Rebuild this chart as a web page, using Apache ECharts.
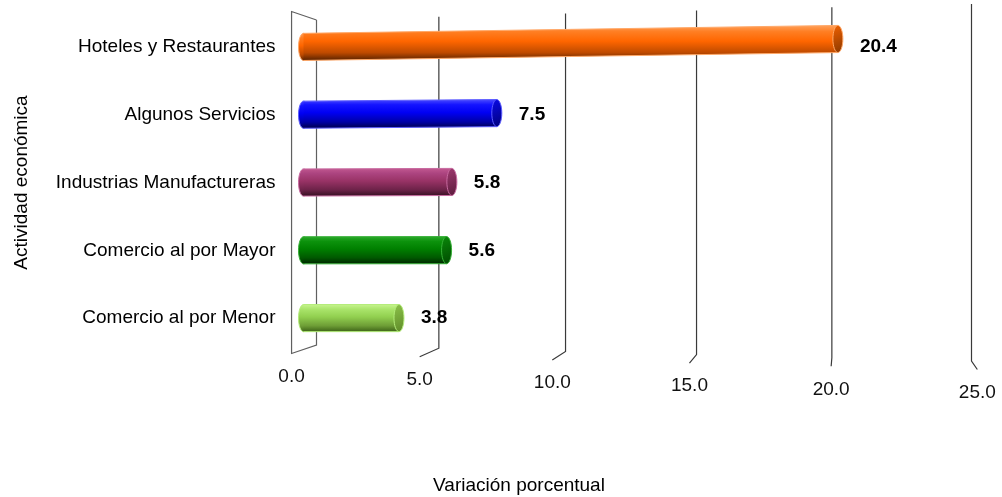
<!DOCTYPE html>
<html><head><meta charset="utf-8">
<script src="https://cdn.jsdelivr.net/npm/echarts@6/dist/echarts.min.js"></script>
<style>html,body{margin:0;padding:0;background:#fff}#c{width:1002px;height:497px}</style>
</head><body><div id="c"></div>
<script>
// Data (bottom to top)
const categories = ['Comercio al por Menor', 'Comercio al por Mayor', 'Industrias Manufactureras', 'Algunos Servicios', 'Hoteles y Restaurantes'];
const values = [3.8, 5.6, 5.8, 7.5, 20.4];
const tickValues = [0, 5, 10, 15, 20, 25];
const tickLabels = ['0.0', '5.0', '10.0', '15.0', '20.0', '25.0'];
const xTitle = 'Variación porcentual';
const yTitle = 'Actividad económica';

const FONT = '"Liberation Sans", Arial, sans-serif';
const palette = [
  {c: ['#C6F48E', '#A9E46A', '#92D050', '#6E9E36', '#3E6418'], cap: ['#8CC24A', '#5E8A28'], edge: '#B4EC7A'},
  {c: ['#2AA82A', '#0C920C', '#008000', '#005800', '#002600'], cap: ['#0A8A0A', '#004800'], edge: '#36B036'},
  {c: ['#C25890', '#AC4480', '#993366', '#6C2248', '#361022'], cap: ['#A03A70', '#5A1C3C'], edge: '#C86AA0'},
  {c: ['#4A4AFF', '#1414FF', '#0000F4', '#0000A6', '#00004C'], cap: ['#0A0AE8', '#00007A'], edge: '#5C5CFF'},
  {c: ['#FFA05A', '#FF7E22', '#FF6600', '#BE4A00', '#582200'], cap: ['#F06000', '#8A3800'], edge: '#FFA868'}
];

function grad(stops) {
  return new echarts.graphic.LinearGradient(0, 0, 0, 1, [
    {offset: 0, color: stops[0]}, {offset: 0.18, color: stops[1]},
    {offset: 0.45, color: stops[2]}, {offset: 0.78, color: stops[3]}, {offset: 1, color: stops[4]}
  ]);
}

function renderGrid(params, api) {
  const cs = params.coordSys;
  const v = api.value(0);
  const idx = params.dataIndex;
  const x = api.coord([v, 0])[0];
  const f = (x - cs.x) / cs.width;
  // perspective placement of the back wall
  const xb = x + 18 - 60 * f + 54 * f * f;
  const top = cs.y + 7 - 16 * f;
  const corner = cs.y + cs.height - 7 + 16 * f;
  const vp = cs.x + cs.width * 0.83;
  const dx = (xb - vp) * 0.047;
  const dy = 8.5;
  const stroke = '#3a3a3a';
  const children = [];
  if (v === 0) {
    children.push({type: 'polyline', shape: {points: [[xb, top], [xb, corner], [xb + dx, corner + dy], [xb + dx, top - dy], [xb, top]]},
      style: {stroke: '#606060', lineWidth: 1.2, fill: null}});
  } else {
    children.push({type: 'polyline', shape: {points: [[xb, top], [xb, corner], [xb + dx, corner + dy]]},
      style: {stroke: stroke, lineWidth: 1.2, fill: null}});
  }
  children.push({type: 'text', style: {text: tickLabels[idx], x: xb + dx, y: corner + dy + 23,
    align: 'center', verticalAlign: 'middle', font: '19px ' + FONT, fill: '#111'}});
  return {type: 'group', children: children};
}

function renderBar(params, api) {
  const v = api.value(0), i = api.value(1);
  const p0 = api.coord([0, i]), p1 = api.coord([v, i]);
  const h = api.size([0, 1])[1] * 0.4;
  const rx = 5;
  const xs = p0[0] + rx;
  const L = p1[0] - xs;
  const s = -0.0148 * Math.pow(i / 4, 2);
  const y0 = p0[1], y1 = p0[1] + s * L;
  const pal = palette[i];
  const g = grad(pal.c);
  return {type: 'group', children: [
    {type: 'ellipse', shape: {cx: xs, cy: y0, rx: rx, ry: h / 2}, style: {fill: g, stroke: pal.edge, lineWidth: 1}},
    {type: 'polygon', shape: {points: [[xs, y0 - h / 2], [p1[0], y1 - h / 2], [p1[0], y1 + h / 2], [xs, y0 + h / 2]]}, style: {fill: grad(pal.c)}},
    {type: 'polyline', shape: {points: [[xs, y0 - h / 2], [p1[0], y1 - h / 2]]}, style: {stroke: pal.edge, lineWidth: 1, fill: null}},
    {type: 'polyline', shape: {points: [[xs, y0 + h / 2], [p1[0], y1 + h / 2]]}, style: {stroke: pal.edge, lineWidth: 1, fill: null}},
    {type: 'ellipse', shape: {cx: p1[0], cy: y1, rx: rx, ry: h / 2},
      style: {fill: new echarts.graphic.LinearGradient(0, 0, 1, 1, [{offset: 0, color: pal.cap[0]}, {offset: 1, color: pal.cap[1]}]), stroke: pal.edge, lineWidth: 1}},
    {type: 'text', style: {text: v.toFixed(1), x: p1[0] + rx + 17, y: y0, align: 'left', verticalAlign: 'middle',
      font: 'bold 19px ' + FONT, fill: '#000'}}
  ]};
}

const chart = echarts.init(document.getElementById('c'), null, {renderer: 'canvas'});
chart.setOption({
  animation: false,
  backgroundColor: '#fff',
  grid: {left: 298.5, top: 13, width: 661, height: 339, containLabel: false, outerBoundsMode: 'none'},
  xAxis: {type: 'value', min: 0, max: 25, interval: 5,
    axisLine: {show: false}, axisTick: {show: false}, axisLabel: {show: false}, splitLine: {show: false}},
  yAxis: {type: 'category', data: categories,
    axisLine: {show: false}, axisTick: {show: false},
    axisLabel: {margin: 23, fontSize: 19, fontFamily: FONT, color: '#000'},
    name: yTitle, nameLocation: 'middle', nameRotate: 90, nameGap: 267,
    nameTextStyle: {fontSize: 19, fontFamily: FONT, color: '#000'}},
  graphic: [{type: 'text', x: 519, y: 486, style: {text: xTitle, align: 'center', verticalAlign: 'middle', font: '19px ' + FONT, fill: '#000'}}],
  series: [
    {type: 'custom', name: 'grid', renderItem: renderGrid, data: tickValues.map(v => [v, 0]), z: 1, silent: true, clip: false},
    {type: 'custom', name: 'Variación', renderItem: renderBar, data: values.map((v, i) => [v, i]), z: 2, clip: false}
  ]
});
</script>
</body></html>
